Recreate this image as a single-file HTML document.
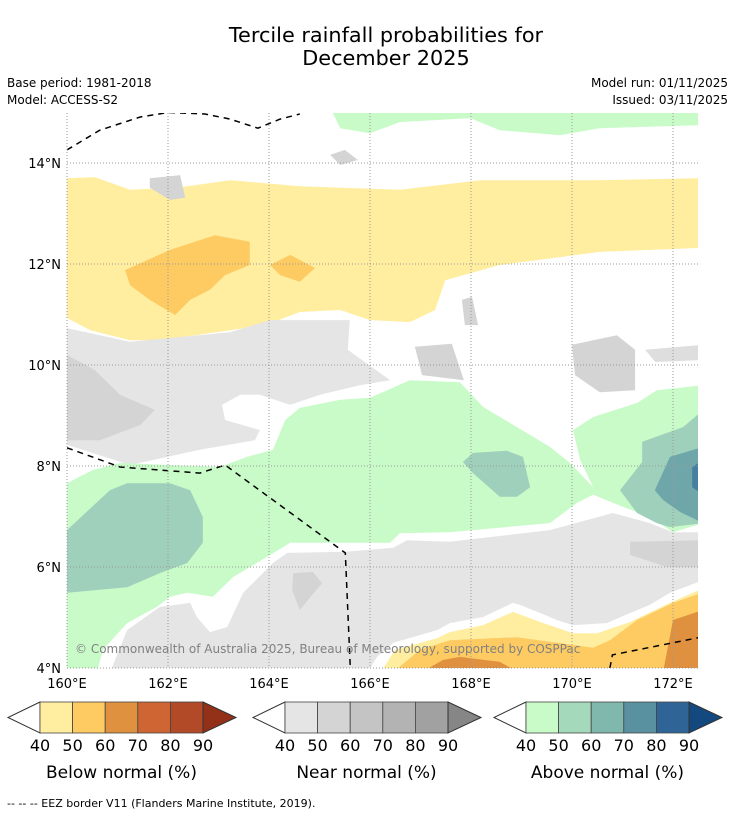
<!DOCTYPE html>
<html><head><meta charset="utf-8"><style>
body{margin:0;background:#fff;font-family:"Liberation Sans","DejaVu Sans",sans-serif;}
#wrap{position:relative;width:736px;height:816px;overflow:hidden;background:#fff}
</style></head><body>
<div id="wrap">
<svg id="svg" width="736" height="816" xmlns="http://www.w3.org/2000/svg" font-family="DejaVu Sans, Liberation Sans, sans-serif">
<text x="386" y="42" text-anchor="middle" font-size="20.8" fill="#000">Tercile rainfall probabilities for</text>
<text x="386" y="65" text-anchor="middle" font-size="20.8" fill="#000">December 2025</text>
<text x="7" y="87" font-size="12">Base period: 1981-2018</text>
<text x="7" y="104" font-size="12">Model: ACCESS-S2</text>
<text x="728" y="87" font-size="12" text-anchor="end">Model run: 01/11/2025</text>
<text x="728" y="104" font-size="12" text-anchor="end">Issued: 03/11/2025</text>
<defs><clipPath id="clip"><rect x="67" y="113" width="631" height="555"/></clipPath></defs>
<g id="map" clip-path="url(#clip)"></g>
<g id="axes"></g>
<text x="75" y="653" font-size="12" fill="#808080">© Commonwealth of Australia 2025, Bureau of Meteorology, supported by COSPPac</text>
<g id="cbars"></g>
<text x="7" y="807" font-size="11">--  --  -- EEZ border V11 (Flanders Marine Institute, 2019).</text>
</svg>
</div>
<script>
const lonTicks=[160,162,164,166,168,170,172];
const latTicks=[4,6,8,10,12,14];
const cbarLevels=[40,50,60,70,80,90];
const belowColors=["#ffeda0","#fecb62","#e0913f","#cf6533","#b24a28","#933118"];
const nearColors=["#e5e5e5","#d4d4d4","#c4c4c4","#b3b3b3","#a1a1a1","#868686"];
const aboveColors=["#c9fbc9","#a5d9bc","#80b8ae","#5a91a0","#2e6596","#13497f"];
const greenTop=[[165.21,15.1],[172.6,15.1],[172.6,14.75],[170.55,14.69],[169.76,14.55],[168.57,14.65],[167.98,14.89],[166.59,14.81],[166.0,14.59],[165.41,14.69]];
const yellowTop=[[160,13.70],[160.55,13.72],[161.25,13.47],[162.24,13.52],[163.23,13.66],[164.61,13.54],[166.59,13.47],[168.18,13.66],[170.55,13.66],[172.6,13.70],[172.6,12.32],[170.55,12.24],[168.57,11.98],[167.49,11.68],[167.29,11.09],[166.79,10.85],[166.0,10.89],[165.41,11.09],[164.61,11.05],[163.92,10.79],[163.23,10.69],[161.84,10.49],[161.25,10.49],[160.46,10.69],[160,10.93]];
const orangeTop1=[[161.15,11.88],[162.04,12.28],[162.93,12.57],[163.62,12.44],[163.62,11.98],[163.13,11.78],[162.83,11.49],[162.44,11.29],[162.14,10.99],[161.64,11.29],[161.25,11.58]];
const orangeTop2=[[164.02,11.98],[164.42,12.18],[164.91,11.92],[164.61,11.65],[164.22,11.78]];
const grayUpper=[[160,10.73],[161.25,10.46],[163.23,10.65],[164.02,10.89],[165.60,10.89],[165.56,10.30],[166.40,9.70],[165.80,9.60],[165.01,9.41],[164.42,9.21],[163.82,9.41],[163.43,9.41],[163.07,9.21],[163.13,8.91],[163.82,8.71],[163.72,8.51],[162.63,8.32],[161.25,8.02],[160,8.42]];
const grayUpperDark=[[160,10.20],[160.55,9.90],[161.05,9.41],[161.74,9.11],[161.45,8.81],[160.65,8.51],[160,8.51]];
const grayBlobA=[[170.0,10.40],[170.89,10.59],[171.25,10.30],[171.25,9.50],[170.55,9.46],[170.06,9.80]];
const grayBlobB=[[171.45,10.30],[172.6,10.40],[172.6,10.10],[171.65,10.06]];
const grayBlobC=[[166.89,10.36],[167.62,10.42],[167.86,9.70],[167.03,9.80]];
const grayBlobD=[[167.82,11.29],[168.02,11.35],[168.14,10.79],[167.88,10.79]];
const grayBlobE=[[161.64,13.70],[162.24,13.76],[162.34,13.31],[162.04,13.27],[161.64,13.51]];
const grayBlobF=[[165.21,14.16],[165.5,14.26],[165.76,14.06],[165.41,13.96]];
const grayLower=[[160.85,3.9],[161.19,4.75],[161.84,5.21],[162.44,5.29],[162.57,5.01],[162.83,4.71],[163.17,4.81],[163.49,5.49],[164.08,6.08],[164.36,6.28],[165.47,6.30],[166.46,6.38],[166.73,6.53],[167.58,6.50],[169.56,6.73],[170.81,7.07],[171.54,6.87],[172.0,6.69],[172.6,6.69],[172.6,5.74],[171.94,5.49],[171.54,5.25],[171.15,5.09],[170.69,4.89],[170.02,4.85],[169.70,4.95],[169.37,5.09],[168.97,5.25],[168.83,5.29],[168.24,5.01],[167.58,4.89],[167.33,4.75],[166.46,4.50],[166.14,4.22],[165.94,3.9]];
const grayLowerDark1=[[164.48,5.88],[164.87,5.90],[165.05,5.68],[164.61,5.15],[164.46,5.54]];
const grayLowerDark2=[[171.15,6.50],[172.6,6.53],[172.6,6.0],[171.88,6.0],[171.15,6.24]];
const greenMain=[[160,7.66],[160.51,7.92],[161.05,8.06],[163.03,7.98],[163.56,8.18],[164.08,8.32],[164.32,8.91],[164.61,9.15],[165.41,9.31],[166.0,9.35],[166.79,9.70],[167.78,9.66],[168.24,9.17],[168.91,8.77],[169.56,8.38],[169.96,8.06],[170.42,7.58],[170.16,8.12],[170.02,8.71],[170.42,8.97],[171.29,9.25],[171.68,9.50],[172.6,9.60],[172.6,6.87],[172.0,6.69],[171.54,6.99],[171.01,7.19],[170.42,7.43],[170.10,7.27],[169.56,6.87],[167.58,6.69],[166.59,6.67],[166.40,6.48],[164.42,6.48],[163.96,6.20],[163.29,5.80],[162.89,5.41],[162.38,5.49],[162.04,5.41],[161.78,5.21],[161.19,4.89],[160.71,4.36],[160.59,3.9],[160,3.9]];
const tealLeft=[[160,6.73],[160.85,7.52],[161.19,7.66],[162.04,7.66],[162.44,7.52],[162.69,6.99],[162.69,6.48],[162.38,6.08],[161.84,5.88],[161.19,5.60],[160,5.49]];
const tealMid=[[167.84,8.08],[168.04,8.26],[168.71,8.30],[169.03,8.18],[169.17,7.58],[168.91,7.39],[168.57,7.39],[168.04,7.86]];
const tealRight=[[170.95,7.52],[171.39,8.08],[171.39,8.48],[172.20,8.77],[172.6,9.11],[172.6,6.87],[171.94,6.79],[171.68,6.87],[171.29,7.07]];
const teal70=[[171.64,7.52],[171.94,8.18],[172.6,8.38],[172.6,6.87],[172.14,7.09],[171.80,7.33]];
const teal80=[[172.38,7.98],[172.6,8.12],[172.6,7.43],[172.38,7.58]];
const yellowBottom=[[166.20,3.9],[166.50,4.36],[167.33,4.59],[167.58,4.71],[168.24,4.85],[168.83,5.11],[169.37,4.91],[170.02,4.69],[170.50,4.69],[171.15,4.91],[171.94,5.29],[172.6,5.58],[172.6,3.9]];
const orangeBottom=[[166.44,3.9],[166.99,4.36],[167.58,4.55],[168.91,4.61],[170.42,4.40],[170.75,4.55],[171.29,4.95],[172.0,5.29],[172.6,5.50],[172.6,3.9]];
const darkOrange1=[[166.99,3.9],[167.45,4.16],[167.78,4.22],[168.57,4.12],[168.97,3.9]];
const darkOrange2=[[171.80,3.9],[172.0,4.95],[172.6,5.15],[172.6,3.9]];
const eezTop=[[160,14.26],[160.65,14.65],[161.45,14.91],[162.0,15.0],[162.73,14.97],[163.23,14.87],[163.78,14.69],[164.22,14.87],[164.61,14.97]];
const eezMid=[[160,8.36],[161.05,7.98],[162.63,7.86],[163.13,8.02],[165.51,6.28],[165.61,4.0]];
const eezBottom=[[170.75,4.0],[170.8,4.26],[172.5,4.6]];
const NS="http://www.w3.org/2000/svg";
const X=lon=>67+(lon-160)*50.5;
const Y=lat=>668-(lat-4)*50.5;
const map=document.getElementById('map');
function poly(pts,fill,name){
  const p=document.createElementNS(NS,'polygon');
  p.setAttribute('points',pts.map(q=>X(q[0]).toFixed(1)+','+Y(q[1]).toFixed(1)).join(' '));
  p.setAttribute('fill',fill);
  
  
  map.appendChild(p);
}
function line(pts,name){
  const p=document.createElementNS(NS,'polyline');
  p.setAttribute('points',pts.map(q=>X(q[0]).toFixed(1)+','+Y(q[1]).toFixed(1)).join(' '));
  p.setAttribute('fill','none');p.setAttribute('stroke','#000');p.setAttribute('stroke-width','1.5');p.setAttribute('stroke-dasharray','6,5');
  
  
  map.appendChild(p);
}
poly(greenTop,aboveColors[0],'above-40-top');
poly(yellowTop,belowColors[0],'below-40-band');
poly(orangeTop1,belowColors[1],'below-50-blob');
poly(orangeTop2,belowColors[1],'below-50-blob-small');
poly(grayUpper,nearColors[0],'near-40-upper');
poly(grayUpperDark,nearColors[1],'near-50-upper');
poly(grayBlobA,nearColors[1],'near-50-east');
poly(grayBlobB,"#dedede",'near-40-east');
poly(grayBlobC,nearColors[1],'near-50-mid');
poly(grayBlobD,nearColors[1],'near-50-mid-small');
poly(grayBlobE,nearColors[1],'near-50-north');
poly(grayBlobF,nearColors[1],'near-50-north-small');
poly(grayLower,nearColors[0],'near-40-lower');
poly(grayLowerDark1,nearColors[1],'near-50-lower');
poly(grayLowerDark2,nearColors[1],'near-50-lower-east');
poly(greenMain,aboveColors[0],'above-40-main');
poly(tealLeft,"#9ed0bb",'above-50-west');
poly(tealMid,"#9ed0bb",'above-50-mid');
poly(tealRight,"#9ed0bb",'above-50-east');
poly(teal70,"#6fa6aa",'above-60-east');
poly(teal80,"#467fa0",'above-70-east');
poly(yellowBottom,belowColors[0],'below-40-south');
poly(orangeBottom,belowColors[1],'below-50-south');
poly(darkOrange1,belowColors[2],'below-60-south');
poly(darkOrange2,belowColors[2],'below-60-southeast');
line(eezTop,'eez-border-north');
line(eezMid,'eez-border-west');
line(eezBottom,'eez-border-south');
const axes=document.getElementById('axes');
lonTicks.forEach(l=>{
  const g=document.createElementNS(NS,'line');
  g.setAttribute('x1',X(l));g.setAttribute('x2',X(l));g.setAttribute('y1',113);g.setAttribute('y2',668);
  g.setAttribute('stroke','#999');g.setAttribute('stroke-dasharray','1,2');g.setAttribute('stroke-width','1');
  
  
  axes.appendChild(g);
  const t=document.createElementNS(NS,'text');
  t.setAttribute('x',X(l));t.setAttribute('y',688);t.setAttribute('text-anchor','middle');t.setAttribute('font-size','13');
  t.textContent=l+'°E';
  
  
  axes.appendChild(t);
});
latTicks.forEach(l=>{
  const g=document.createElementNS(NS,'line');
  g.setAttribute('y1',Y(l));g.setAttribute('y2',Y(l));g.setAttribute('x1',67);g.setAttribute('x2',698);
  g.setAttribute('stroke','#999');g.setAttribute('stroke-dasharray','1,2');g.setAttribute('stroke-width','1');
  
  
  axes.appendChild(g);
  const t=document.createElementNS(NS,'text');
  t.setAttribute('x',61);t.setAttribute('y',Y(l)+5);t.setAttribute('text-anchor','end');t.setAttribute('font-size','13');
  t.textContent=l+'°N';
  
  
  axes.appendChild(t);
});
const cb=document.getElementById('cbars');
function cbar(x0,colors,title,name){
  const w=32.6,top=702,h=31,n=cbarLevels.length-1;
  const g=document.createElementNS(NS,'g');
  
  
  cb.appendChild(g);
  const lt=document.createElementNS(NS,'polygon');
  lt.setAttribute('points',`${x0},${top} ${x0-32},${top+h/2} ${x0},${top+h}`);
  lt.setAttribute('fill','#fff');lt.setAttribute('stroke','#333');
  
  
  g.appendChild(lt);
  for(let i=0;i<n;i++){
    const r=document.createElementNS(NS,'rect');
    r.setAttribute('x',x0+i*w);r.setAttribute('y',top);r.setAttribute('width',w);r.setAttribute('height',h);
    r.setAttribute('fill',colors[i]);r.setAttribute('stroke','#444');r.setAttribute('stroke-width','0.8');
    
    
    g.appendChild(r);
  }
  const xe=x0+n*w;
  const rt=document.createElementNS(NS,'polygon');
  rt.setAttribute('points',`${xe},${top} ${xe+33},${top+h/2} ${xe},${top+h}`);
  rt.setAttribute('fill',colors[n]);rt.setAttribute('stroke','#333');
  
  
  g.appendChild(rt);
  cbarLevels.forEach((v,i)=>{
    const t=document.createElementNS(NS,'text');
    t.setAttribute('x',x0+i*w);t.setAttribute('y',751);t.setAttribute('text-anchor','middle');t.setAttribute('font-size','16');
    t.textContent=v;
    
    
    g.appendChild(t);
  });
  const tt=document.createElementNS(NS,'text');
  tt.setAttribute('x',x0+n*w/2);tt.setAttribute('y',778);tt.setAttribute('text-anchor','middle');tt.setAttribute('font-size','17');
  tt.textContent=title;
  
  
  g.appendChild(tt);
}
cbar(40,belowColors,'Below normal (%)','below-normal-colorbar');
cbar(285,nearColors,'Near normal (%)','near-normal-colorbar');
cbar(526,aboveColors,'Above normal (%)','above-normal-colorbar');
</script>
</body></html>
